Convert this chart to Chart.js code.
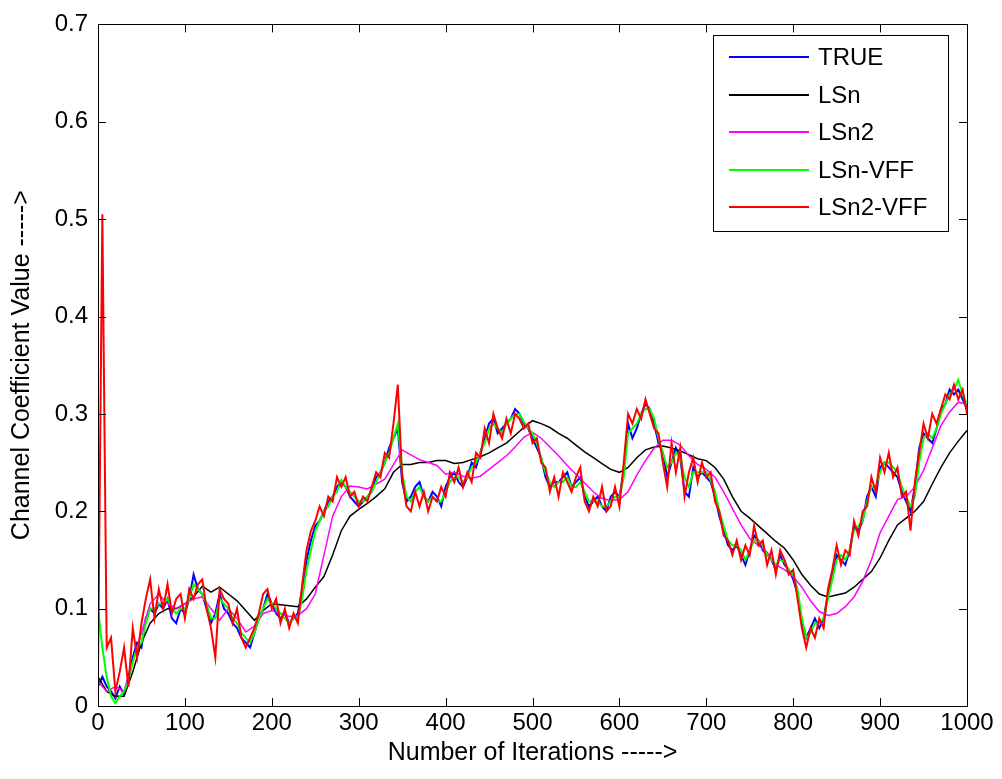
<!DOCTYPE html>
<html>
<head>
<meta charset="utf-8">
<title>Channel Coefficient Value</title>
<script src="https://cdn.jsdelivr.net/npm/chart.js@4/dist/chart.umd.min.js"></script>
<style>
  html, body { margin: 0; padding: 0; background: #fff; }
  #wrap { width: 1002px; height: 779px; }
</style>
</head>
<body>
<div id="wrap"><canvas id="chart" width="1002" height="779"></canvas></div>
<script>
// Iterations for the noisy estimates (every 5) and the smooth estimates (every 10)
const iterFine = [];
for (let i = 0; i <= 1000; i += 5) iterFine.push(i);
const iterCoarse = [];
for (let i = 0; i <= 1000; i += 10) iterCoarse.push(i);

const xTicks = [0, 100, 200, 300, 400, 500, 600, 700, 800, 900, 1000];
const yTicks = [0, 0.1, 0.2, 0.3, 0.4, 0.5, 0.6, 0.7];

// TRUE channel coefficient (read every 5 iterations)
const trueVals = [
  0.02, 0.03, 0.02, 0.015, 0.008, 0.02, 0.012, 0.03, 0.05, 0.065,
  0.06, 0.09, 0.1, 0.095, 0.105, 0.1, 0.11, 0.09, 0.085, 0.1,
  0.095, 0.11, 0.135, 0.12, 0.115, 0.1, 0.085, 0.095, 0.115, 0.1,
  0.095, 0.085, 0.08, 0.07, 0.065, 0.06, 0.075, 0.09, 0.1, 0.115,
  0.105, 0.095, 0.09, 0.095, 0.085, 0.09, 0.095, 0.12, 0.15, 0.17,
  0.185, 0.19, 0.2, 0.21, 0.215, 0.225, 0.23, 0.225, 0.215, 0.21,
  0.205, 0.21, 0.215, 0.22, 0.235, 0.24, 0.25, 0.265, 0.275, 0.285,
  0.23, 0.21, 0.215, 0.225, 0.23, 0.215, 0.21, 0.22, 0.215, 0.205,
  0.225, 0.235, 0.24, 0.23, 0.225, 0.235, 0.25, 0.245, 0.26, 0.275,
  0.29, 0.295, 0.28, 0.285, 0.29, 0.295, 0.305, 0.3, 0.29, 0.285,
  0.275, 0.265, 0.255, 0.235, 0.225, 0.23, 0.23, 0.235, 0.24, 0.225,
  0.23, 0.235, 0.215, 0.205, 0.21, 0.215, 0.205, 0.2, 0.215, 0.22,
  0.215, 0.24, 0.29, 0.275, 0.285, 0.3, 0.31, 0.305, 0.29, 0.27,
  0.26, 0.235, 0.25, 0.265, 0.255, 0.22, 0.215, 0.245, 0.235, 0.24,
  0.235, 0.23, 0.215, 0.195, 0.18, 0.165, 0.16, 0.165, 0.155, 0.145,
  0.16, 0.175, 0.17, 0.16, 0.155, 0.15, 0.14, 0.155, 0.145, 0.14,
  0.13, 0.115, 0.085, 0.07, 0.08, 0.09, 0.08, 0.09, 0.115, 0.135,
  0.155, 0.15, 0.145, 0.16, 0.185, 0.18, 0.19, 0.215, 0.225, 0.215,
  0.245, 0.25, 0.245, 0.24, 0.235, 0.22, 0.21, 0.2, 0.225, 0.265,
  0.28, 0.275, 0.27, 0.285, 0.305, 0.31, 0.325, 0.32, 0.325, 0.315,
  0.305
];

// LSn-VFF estimate (every 5 iterations)
const lsnVffVals = [
  0.1, 0.06, 0.03, 0.01, 0.003, 0.01, 0.015, 0.025, 0.045, 0.06,
  0.065, 0.085, 0.1, 0.1, 0.105, 0.105, 0.11, 0.1, 0.095, 0.1,
  0.1, 0.11, 0.125, 0.12, 0.115, 0.105, 0.09, 0.09, 0.11, 0.105,
  0.1, 0.09, 0.085, 0.075, 0.07, 0.065, 0.075, 0.09, 0.1, 0.11,
  0.105, 0.1, 0.095, 0.09, 0.085, 0.09, 0.09, 0.11, 0.14, 0.16,
  0.18, 0.19, 0.2, 0.205, 0.215, 0.22, 0.232, 0.225, 0.22, 0.215,
  0.21, 0.21, 0.215, 0.22, 0.23, 0.24, 0.25, 0.26, 0.275, 0.29,
  0.24, 0.215, 0.21, 0.22, 0.225, 0.215, 0.21, 0.215, 0.21, 0.21,
  0.22, 0.23, 0.235, 0.235, 0.23, 0.235, 0.245, 0.25, 0.26, 0.27,
  0.285, 0.29, 0.285, 0.28, 0.29, 0.295, 0.3, 0.3, 0.292, 0.285,
  0.28, 0.27, 0.255, 0.24, 0.23, 0.225, 0.23, 0.23, 0.235, 0.225,
  0.225, 0.23, 0.22, 0.21, 0.21, 0.21, 0.205, 0.205, 0.21, 0.215,
  0.215, 0.235, 0.28, 0.285, 0.29, 0.3, 0.305, 0.305, 0.295, 0.275,
  0.26, 0.245, 0.25, 0.26, 0.255, 0.235, 0.225, 0.24, 0.24, 0.24,
  0.24, 0.232, 0.22, 0.2, 0.185, 0.17, 0.165, 0.165, 0.16, 0.15,
  0.16, 0.17, 0.17, 0.165, 0.155, 0.15, 0.145, 0.15, 0.148, 0.14,
  0.135, 0.12, 0.09, 0.07, 0.075, 0.085, 0.085, 0.09, 0.11, 0.13,
  0.15, 0.155, 0.15, 0.16, 0.18, 0.185, 0.19, 0.21, 0.225, 0.225,
  0.24, 0.25, 0.25, 0.245, 0.24, 0.225, 0.215, 0.205, 0.215, 0.25,
  0.275, 0.28, 0.275, 0.285, 0.3, 0.31, 0.32, 0.325, 0.335, 0.32,
  0.31
];

// LSn2-VFF estimate (every 5 iterations)
const lsn2VffVals = [
  0.03, 0.505, 0.06, 0.07, 0.015, 0.035, 0.06, 0.02, 0.08, 0.05,
  0.085, 0.11, 0.13, 0.09, 0.12, 0.1, 0.125, 0.095, 0.11, 0.115,
  0.09, 0.12, 0.11, 0.125, 0.13, 0.1, 0.08, 0.05, 0.12, 0.11,
  0.105, 0.085, 0.1, 0.07, 0.06, 0.07, 0.08, 0.095, 0.115, 0.12,
  0.1, 0.11, 0.085, 0.1, 0.08, 0.095, 0.085, 0.125, 0.16, 0.18,
  0.19, 0.205, 0.195, 0.215, 0.21, 0.235, 0.225, 0.235, 0.215, 0.22,
  0.205, 0.215, 0.21, 0.225, 0.24, 0.235, 0.26, 0.255, 0.29, 0.33,
  0.235, 0.205, 0.2, 0.22, 0.205, 0.22, 0.2, 0.215, 0.21, 0.225,
  0.215, 0.24, 0.23, 0.245, 0.225, 0.24, 0.23, 0.26, 0.255, 0.285,
  0.27, 0.3, 0.285, 0.275, 0.295, 0.28, 0.3, 0.295, 0.285, 0.29,
  0.27, 0.275, 0.25, 0.245, 0.22, 0.235, 0.215, 0.24, 0.23, 0.22,
  0.235, 0.245, 0.21, 0.2, 0.215, 0.205, 0.225, 0.2, 0.205, 0.225,
  0.205, 0.25, 0.3, 0.29, 0.305, 0.295, 0.315, 0.3, 0.285, 0.28,
  0.25, 0.225, 0.27, 0.24, 0.265, 0.215, 0.24, 0.255, 0.23, 0.25,
  0.235, 0.24, 0.21, 0.2, 0.175, 0.17, 0.155, 0.17, 0.15, 0.165,
  0.155, 0.185, 0.165, 0.17, 0.145, 0.16, 0.135, 0.16, 0.15, 0.135,
  0.14, 0.11, 0.08, 0.06, 0.08, 0.07, 0.09, 0.08, 0.12, 0.14,
  0.165, 0.145, 0.16, 0.155, 0.19, 0.175, 0.2, 0.205, 0.235, 0.22,
  0.255, 0.24, 0.26, 0.235, 0.245, 0.215, 0.22, 0.18, 0.23, 0.26,
  0.29, 0.275, 0.3, 0.29, 0.305, 0.32, 0.315, 0.33, 0.315, 0.325,
  0.3
];

// LSn estimate (every 10 iterations)
const lsnVals = [
  0.03, 0.015, 0.01, 0.01, 0.035, 0.065, 0.085, 0.095, 0.1, 0.1,
  0.105, 0.112, 0.123, 0.117, 0.122, 0.115, 0.108, 0.098, 0.088, 0.098,
  0.105, 0.104, 0.103, 0.102, 0.11, 0.122, 0.133, 0.155, 0.18, 0.195,
  0.202, 0.208, 0.215, 0.223, 0.24, 0.248, 0.248, 0.25, 0.25, 0.252,
  0.252, 0.249, 0.25, 0.253, 0.256, 0.26, 0.265, 0.27, 0.278, 0.286,
  0.293, 0.29, 0.286, 0.28, 0.275, 0.268, 0.261, 0.255, 0.249, 0.243,
  0.24, 0.245, 0.255, 0.263, 0.266, 0.267, 0.265, 0.262, 0.258, 0.254,
  0.252, 0.245, 0.233, 0.215, 0.2, 0.193, 0.185, 0.177, 0.169, 0.162,
  0.15, 0.135, 0.124, 0.115, 0.112, 0.114, 0.116, 0.122, 0.13, 0.138,
  0.152, 0.17, 0.186, 0.193, 0.2, 0.21, 0.228, 0.245, 0.26, 0.272,
  0.283
];

// LSn2 estimate (every 10 iterations)
const lsn2Vals = [
  0.025, 0.015, 0.02, 0.015, 0.045, 0.075, 0.105, 0.115, 0.105, 0.1,
  0.105, 0.11, 0.112, 0.1, 0.088, 0.1, 0.09, 0.076, 0.082, 0.095,
  0.098, 0.095, 0.092, 0.093, 0.1, 0.115, 0.155, 0.195, 0.215, 0.226,
  0.225, 0.223, 0.228, 0.233, 0.248, 0.263, 0.258, 0.253, 0.25, 0.247,
  0.238, 0.24, 0.236, 0.234, 0.236, 0.243, 0.25, 0.257, 0.266, 0.276,
  0.281, 0.275, 0.266, 0.257, 0.247, 0.238, 0.229, 0.22, 0.213, 0.211,
  0.212, 0.22, 0.237, 0.252, 0.265, 0.273, 0.273, 0.268, 0.257, 0.248,
  0.243, 0.235, 0.22, 0.203, 0.186, 0.172, 0.165, 0.158, 0.145, 0.14,
  0.133, 0.122, 0.108, 0.097, 0.093, 0.095, 0.102, 0.112, 0.128, 0.15,
  0.178, 0.195, 0.212, 0.215, 0.225, 0.242, 0.265, 0.288, 0.302, 0.312,
  0.31
];

const toPoints = (xs, ys) => xs.map((x, i) => ({ x: x, y: ys[i] }));

const FONT = 'Arial, "Liberation Sans", Helvetica, sans-serif';

// MATLAB style: axes box, inward ticks on all four sides, boxed legend
const matlabAxes = {
    id: 'matlabAxes',
    afterDraw(chart) {
        const ctx = chart.ctx;
        const a = chart.chartArea;
        const xs = chart.scales.x, ys = chart.scales.y;
        const tl = 8;
        ctx.save();
        ctx.strokeStyle = '#000';
        ctx.lineWidth = 1;
        ctx.beginPath();
        xTicks.forEach(v => {
            const px = Math.round(xs.getPixelForValue(v)) + 0.5;
            ctx.moveTo(px, a.bottom); ctx.lineTo(px, a.bottom - tl);
            ctx.moveTo(px, a.top); ctx.lineTo(px, a.top + tl);
        });
        yTicks.forEach(v => {
            const py = Math.round(ys.getPixelForValue(v)) + 0.5;
            ctx.moveTo(a.left, py); ctx.lineTo(a.left + tl, py);
            ctx.moveTo(a.right, py); ctx.lineTo(a.right - tl, py);
        });
        ctx.stroke();
        ctx.strokeRect(Math.round(a.left) + 0.5, Math.round(a.top) + 0.5,
                       Math.round(a.right - a.left), Math.round(a.bottom - a.top));

        // legend
        const lx = 713, ly = 35, lw = 235, lh = 196;
        ctx.fillStyle = '#fff';
        ctx.fillRect(lx, ly, lw, lh);
        ctx.strokeRect(lx + 0.5, ly + 0.5, lw, lh);
        ctx.font = '24px ' + FONT;
        ctx.textBaseline = 'middle';
        ctx.textAlign = 'left';
        chart.data.datasets.forEach((ds, i) => {
            const y = Math.round(ly + 22 + i * 37.5);
            ctx.strokeStyle = ds.borderColor;
            ctx.lineWidth = 2;
            ctx.beginPath();
            ctx.moveTo(lx + 16, y); ctx.lineTo(lx + 96, y);
            ctx.stroke();
            ctx.fillStyle = '#000';
            ctx.fillText(ds.label, lx + 105, y + 1);
        });
        ctx.restore();
    }
};

new Chart(document.getElementById('chart'), {
    type: 'line',
    data: {
        datasets: [
            { label: 'TRUE', data: toPoints(iterFine, trueVals), borderColor: '#0000ff', borderWidth: 2, order: 5 },
            { label: 'LSn', data: toPoints(iterCoarse, lsnVals), borderColor: '#000000', borderWidth: 1.5, order: 4 },
            { label: 'LSn2', data: toPoints(iterCoarse, lsn2Vals), borderColor: '#ff00ff', borderWidth: 1.5, order: 3 },
            { label: 'LSn-VFF', data: toPoints(iterFine, lsnVffVals), borderColor: '#00ff00', borderWidth: 2, order: 2 },
            { label: 'LSn2-VFF', data: toPoints(iterFine, lsn2VffVals), borderColor: '#ff0000', borderWidth: 2, order: 1 }
        ]
    },
    options: {
        responsive: false,
        animation: false,
        events: [],
        layout: { padding: { left: 0, right: 35, top: 17, bottom: 0 } },
        elements: { point: { radius: 0 }, line: { tension: 0, fill: false } },
        plugins: { legend: { display: false }, tooltip: { enabled: false } },
        scales: {
            x: {
                type: 'linear',
                min: 0, max: 1000,
                afterFit: s => { s.height = 73; },
                afterBuildTicks: s => { s.ticks = xTicks.map(v => ({ value: v })); },
                grid: { display: false, drawTicks: false },
                border: { display: false },
                ticks: { color: '#000', padding: 3, font: { family: FONT, size: 24 },
                         callback: v => String(v) },
                title: { display: true, text: 'Number of Iterations ----->', color: '#000',
                         padding: { top: 0, bottom: 11 }, font: { family: FONT, size: 25 } }
            },
            y: {
                type: 'linear',
                min: 0, max: 0.7,
                afterFit: s => { s.width = 98; },
                afterBuildTicks: s => { s.ticks = yTicks.map(v => ({ value: v })); },
                grid: { display: false, drawTicks: false },
                border: { display: false },
                ticks: { color: '#000', padding: 10, font: { family: FONT, size: 24 },
                         callback: v => String(+v.toFixed(1)) },
                title: { display: true, text: 'Channel Coefficient Value ----->', color: '#000',
                         padding: { top: 7, bottom: 0 }, font: { family: FONT, size: 25 } }
            }
        }
    },
    plugins: [matlabAxes]
});
</script>
</body>
</html>
